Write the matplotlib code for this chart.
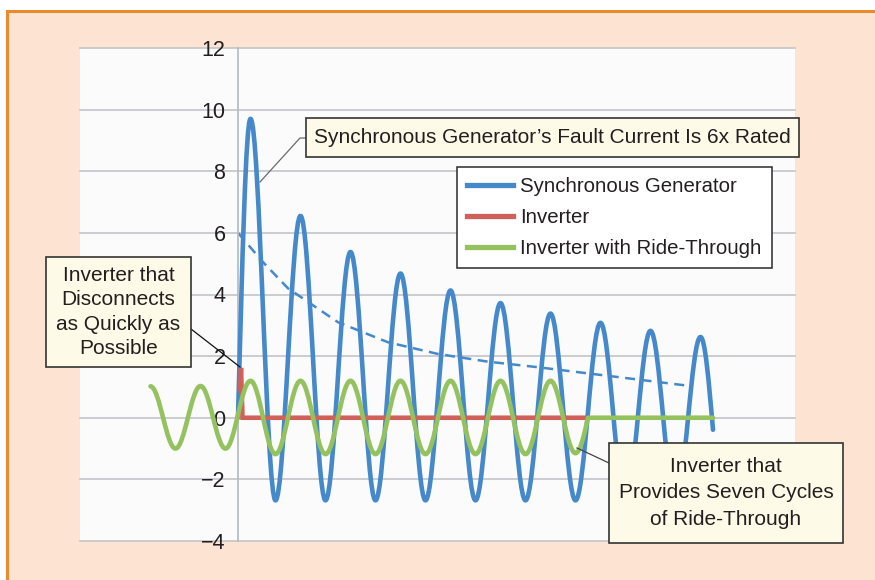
import matplotlib
matplotlib.use("Agg")
import matplotlib.pyplot as plt
from matplotlib.path import Path
from matplotlib.patches import PathPatch, Rectangle
from matplotlib.lines import Line2D

plt.rcParams['font.family'] = ['Liberation Sans', 'DejaVu Sans']

# ---------------- data (time in cycles, current in per-unit) ----------------
blue_t = [0.0, 0.25, 0.75, 1.25, 1.75, 2.25, 2.75, 3.25, 3.75, 4.25, 4.75,
          5.25, 5.75, 6.25, 6.75, 7.25, 7.75, 8.25, 8.75, 9.25, 9.5]
blue_i = [0.0, 9.7, -2.68, 6.55, -2.68, 5.38, -2.68, 4.68, -2.68, 4.13, -2.68,
          3.72, -2.68, 3.38, -2.68, 3.08, -2.68, 2.82, -2.68, 2.62, -0.39]

green_t = [-1.75, -1.25, -0.75, -0.25, 0.25, 0.75, 1.25, 1.75, 2.25, 2.75,
           3.25, 3.75, 4.25, 4.75, 5.25, 5.75, 6.25, 6.75, 7.0, 9.5]
green_i = [1.02, -1.0, 1.03, -1.0, 1.2, -1.18, 1.2, -1.18, 1.2, -1.18,
           1.2, -1.18, 1.2, -1.18, 1.2, -1.18, 1.2, -1.15, 0.0, 0.0]

red_t = [0.04, 0.06, 0.09, 6.97]
red_i = [0.85, 1.62, 0.0, 0.0]

env_t = [0, 0.5, 1, 1.5, 2, 3, 4, 5, 6, 7, 8, 9]
env_i = [6.0, 5.05, 4.2, 3.65, 3.1, 2.45, 2.07, 1.82, 1.64, 1.44, 1.24, 1.04]

yticks = [-4, -2, 0, 2, 4, 6, 8, 10, 12]
ytick_labels = ['\u22124', '\u22122', '0', '2', '4', '6', '8', '10', '12']

series_names = ['Synchronous Generator', 'Inverter', 'Inverter with Ride-Through']
colors = ['#4589CB', '#D0605A', '#93C25F']

note_gen = 'Synchronous Generator\u2019s Fault Current Is 6x Rated'
note_inv = 'Inverter that\nDisconnects\nas Quickly as\nPossible'
note_rt = 'Inverter that\nProvides Seven Cycles\nof Ride-Through'

# ---------------- helpers ----------------
W, H = 875, 580
def fxy(px, py):
    return (px / W, 1 - py / H)


def wave_path(xs, ys, start_flat=False):
    """Smooth path through extrema using cubic Bezier half-waves."""
    k = 0.3634
    n = len(xs)
    flat = []
    for i in range(n):
        if i == 0:
            flat.append(start_flat)
        elif i == n - 1:
            flat.append(False)
        else:
            flat.append((ys[i] - ys[i - 1]) * (ys[i + 1] - ys[i]) < 0)
    verts = [(xs[0], ys[0])]
    codes = [Path.MOVETO]
    for i in range(n - 1):
        x0, y0, x1, y1 = xs[i], ys[i], xs[i + 1], ys[i + 1]
        dx, dy = x1 - x0, y1 - y0
        if dy == 0:
            verts.append((x1, y1)); codes.append(Path.LINETO)
            continue
        if flat[i]:
            c1 = (x0 + k * dx, y0)
        else:
            c1 = (x0 + dx / 3, y0 + 0.52 * dy)
        if flat[i + 1]:
            c2 = (x1 - k * dx, y1)
        else:
            c2 = (x1 - dx / 3, y1 - 0.52 * dy)
        verts += [c1, c2, (x1, y1)]
        codes += [Path.CURVE4] * 3
    return Path(verts, codes)


# ---------------- figure ----------------
fig = plt.figure(figsize=(8.75, 5.8), dpi=100)
fig.patch.set_facecolor('white')

bg = Rectangle(fxy(7, 620), (920 - 7) / W, (620 - 11) / H,
               transform=fig.transFigure, facecolor='#FDE4D2',
               edgecolor='#E98A2C', lw=2.2, zorder=-10)
fig.add_artist(bg)

ax = fig.add_axes([80 / W, 1 - 541 / H, 715 / W, 493 / H])
ax.set_facecolor('#FBFBFC')
ax.set_xlim(-3.16, 11.14)
ax.set_ylim(-4, 12)
ax.set_xticks([])
ax.set_yticks(yticks)
ax.set_yticklabels(ytick_labels)
ax.grid(axis='y', color='#C6C9CD', lw=1.3, clip_on=False)
ax.set_axisbelow(True)
for s in ['top', 'right', 'bottom']:
    ax.spines[s].set_visible(False)
ax.spines['left'].set_position(('data', 0))
ax.spines['left'].set_color('#B8BDC3')
ax.spines['left'].set_linewidth(1.3)
ax.tick_params(axis='y', length=0, pad=9, labelsize=15.5, labelcolor='#231F20')

# envelope
ax.plot(env_t, env_i, color=colors[0], lw=1.8, ls=(0, (4, 2.6)), zorder=2)

ax.add_patch(PathPatch(wave_path(blue_t, blue_i), fill=False, edgecolor=colors[0],
                       lw=3.3, capstyle='round', joinstyle='round', zorder=3))
ax.plot(red_t, red_i, color=colors[1], lw=3.3, solid_capstyle='butt',
        solid_joinstyle='miter', zorder=4)
ax.add_patch(PathPatch(wave_path(green_t, green_i, start_flat=True), fill=False,
                       edgecolor=colors[2], lw=3.3, capstyle='round',
                       joinstyle='round', zorder=5))

# legend
handles = [Line2D([], [], color=c, lw=3.8) for c in colors]
leg = fig.legend(handles, series_names, loc='upper left',
                 bbox_to_anchor=fxy(457, 167), fontsize=14.7,
                 handlelength=2.25, handletextpad=0.35, borderpad=0.5,
                 labelspacing=0.58, borderaxespad=0, fancybox=False,
                 edgecolor='#2a2a2a', facecolor='white', framealpha=1)
leg.get_frame().set_linewidth(1.1)
for t in leg.get_texts():
    t.set_color('#231F20')


def callout(x0, y0, x1, y1, text, ls):
    rect = Rectangle(fxy(x0, y1), (x1 - x0) / W, (y1 - y0) / H,
                     transform=fig.transFigure, facecolor='#FEFAE8',
                     edgecolor='#333333', lw=1.2, zorder=20)
    fig.add_artist(rect)
    cx, cy = fxy((x0 + x1) / 2, (y0 + y1) / 2)
    fig.text(cx, cy, text, ha='center', va='center', fontsize=15,
             linespacing=ls, color='#231F20', zorder=21)


def leader(pts, color):
    xs = [p[0] / W for p in pts]
    ys = [1 - p[1] / H for p in pts]
    fig.add_artist(Line2D(xs, ys, transform=fig.transFigure, color=color,
                          lw=0.9, zorder=19))


leader([(306, 138), (300, 138), (260, 182)], '#6a6a6a')
leader([(191, 329), (240, 367)], '#111111')
leader([(609, 463), (577, 448)], '#444444')

callout(306, 118, 799, 157, note_gen, 1.2)
callout(46, 257, 191, 367, note_inv, 1.37)
callout(609, 443, 843, 543, note_rt, 1.52)

fig.savefig('out.png', dpi=100)
